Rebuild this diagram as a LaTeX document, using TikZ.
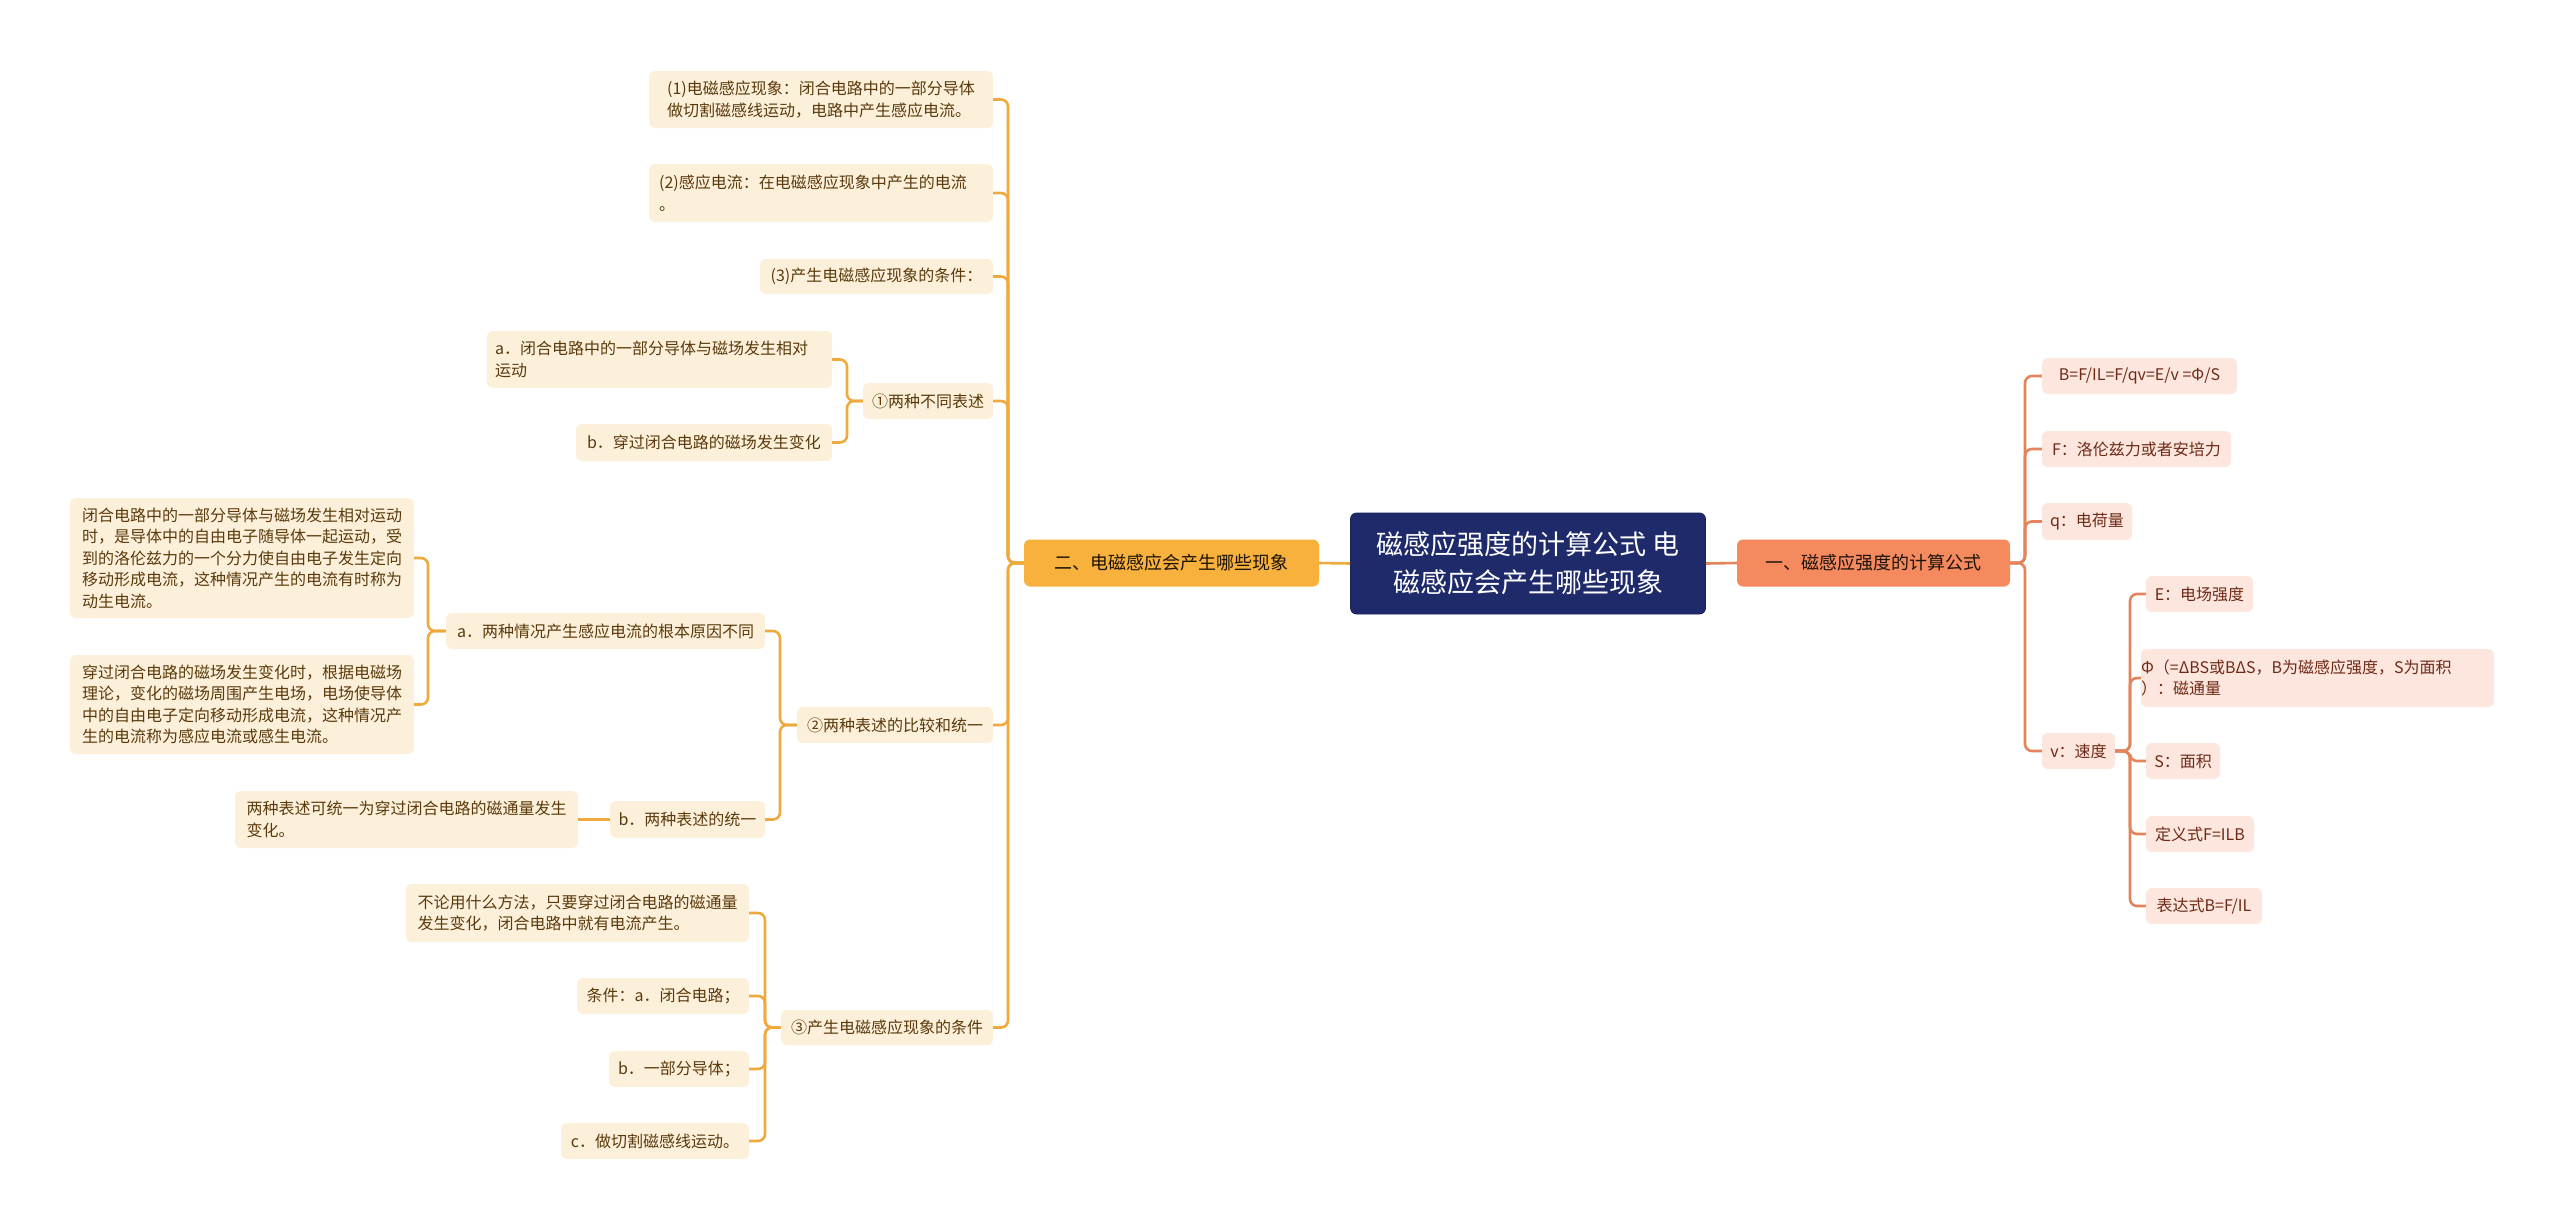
\documentclass[tikz,border=0pt]{standalone}
\usepackage{fontspec}
\newfontfamily\cf{Noto Sans CJK SC}
\definecolor{rootfill}{HTML}{1F2A6B}
\definecolor{lmainfill}{HTML}{F8B13C}
\definecolor{rmainfill}{HTML}{F48A5E}
\definecolor{lfill}{HTML}{FDF0DA}
\definecolor{rfill}{HTML}{FDE6DE}
\definecolor{ltext}{HTML}{5A3A0C}
\definecolor{rtext}{HTML}{6E2A16}
\definecolor{lline}{HTML}{EFAA3E}
\definecolor{rline}{HTML}{E3845C}
\tikzset{
  box/.style={rounded corners=6pt, inner sep=0pt, align=left, anchor=center},
  rootbox/.style={box, fill=rootfill, draw=rootfill!80!black, line width=0.8pt, text=white, align=center, font=\cf\fontsize{27}{38}\selectfont},
  lmain/.style={box, fill=lmainfill, text=black!85!brown, font=\cf\fontsize{18}{24}\selectfont},
  rmain/.style={box, fill=rmainfill, text=black!85!brown, font=\cf\fontsize{18}{24}\selectfont},
  lbox/.style={box, fill=lfill, text=ltext, font=\cf\fontsize{16}{21.5}\selectfont},
  rbox/.style={box, fill=rfill, text=rtext, font=\cf\fontsize{16}{21.5}\selectfont},
  lcon/.style={draw=lline, line width=2.6pt, rounded corners=7pt},
  rcon/.style={draw=rline, line width=2.6pt, rounded corners=7pt},
}
\newcommand{\bx}[7]{\node[#1, minimum width=#4, minimum height=#5] (#2) at (#3) {#6};}
\begin{document}
\begin{tikzpicture}[x=1pt,y=-1pt]
\useasboundingbox[fill=white] (0,0) rectangle (2560,1231);
% trunk coordinates
\coordinate (tL) at (1008,0);
\coordinate (tA) at (847,0);
\coordinate (tB) at (780,0);
\coordinate (tBa) at (428,0);
\coordinate (tC) at (765,0);
\coordinate (tR) at (2025,0);
\coordinate (tV) at (2130,0);
% root and mains
\node[rootbox, minimum width=355, minimum height=101] (root) at (1528,563.5) {磁感应强度的计算公式 电\\磁感应会产生哪些现象};
\node[lmain, minimum width=295, minimum height=47] (L) at (1171.5,563) {二、电磁感应会产生哪些现象};
\node[rmain, minimum width=273, minimum height=47] (R) at (1873.5,563) {一、磁感应强度的计算公式};
% left children
\node[lbox, minimum width=344, minimum height=57] (n1) at (821,99.5) {(1)电磁感应现象：闭合电路中的一部分导体\\做切割磁感线运动，电路中产生感应电流。};
\node[lbox, minimum width=344, minimum height=58] (n2) at (821,193) {(2)感应电流：在电磁感应现象中产生的电流\\。\hphantom{感应电流：在电磁感应现象中产生的电流()2}};
\node[lbox, minimum width=233, minimum height=35] (n3) at (876.5,276.5) {(3)产生电磁感应现象的条件：};
\node[lbox, minimum width=130, minimum height=36] (nA) at (928,401) {①两种不同表述};
\node[lbox, minimum width=345, minimum height=57] (nA1) at (659.5,359.5) {a．闭合电路中的一部分导体与磁场发生相对\\运动\hphantom{闭合电路中的一部分导体与磁场发生相a．}};
\node[lbox, minimum width=256, minimum height=37] (nA2) at (704,442.5) {b．穿过闭合电路的磁场发生变化};
\node[lbox, minimum width=196, minimum height=36] (nB) at (895,725) {②两种表述的比较和统一};
\node[lbox, minimum width=319, minimum height=36] (nB1) at (605.5,631) {a．两种情况产生感应电流的根本原因不同};
\node[lbox, minimum width=344, minimum height=120] (nB11) at (242,558) {闭合电路中的一部分导体与磁场发生相对运动\\时，是导体中的自由电子随导体一起运动，受\\到的洛伦兹力的一个分力使自由电子发生定向\\移动形成电流，这种情况产生的电流有时称为\\动生电流。};
\node[lbox, minimum width=344, minimum height=99] (nB12) at (242,704.5) {穿过闭合电路的磁场发生变化时，根据电磁场\\理论，变化的磁场周围产生电场，电场使导体\\中的自由电子定向移动形成电流，这种情况产\\生的电流称为感应电流或感生电流。};
\node[lbox, minimum width=155, minimum height=37] (nB2) at (687.5,819.5) {b．两种表述的统一};
\node[lbox, minimum width=343, minimum height=57] (nB21) at (406.5,819.5) {两种表述可统一为穿过闭合电路的磁通量发生\\变化。};
\node[lbox, minimum width=212, minimum height=35] (nC) at (887,1027.5) {③产生电磁感应现象的条件};
\node[lbox, minimum width=343, minimum height=58] (nC1) at (577.5,913) {不论用什么方法，只要穿过闭合电路的磁通量\\发生变化，闭合电路中就有电流产生。};
\node[lbox, minimum width=172, minimum height=36] (nC2) at (663,996) {条件：a．闭合电路；};
\node[lbox, minimum width=140, minimum height=36] (nC3) at (679,1069) {b．一部分导体；};
\node[lbox, minimum width=188, minimum height=36] (nC4) at (655,1141) {c．做切割磁感线运动。};
% right children
\node[rbox, minimum width=195, minimum height=36] (r1) at (2139.5,376) {B=F/IL=F/qv=E/v =Φ/S};
\node[rbox, minimum width=189, minimum height=36] (r2) at (2136.5,449) {F：洛伦兹力或者安培力};
\node[rbox, minimum width=90, minimum height=37] (r3) at (2087,521.5) {q：电荷量};
\node[rbox, minimum width=73, minimum height=36] (r4) at (2078.5,751) {v：速度};
\node[rbox, minimum width=107, minimum height=36] (r41) at (2199.5,594) {E：电场强度};
\node[rbox, minimum width=343, minimum height=58] (r42) at (2317.5,678) {Φ（=ΔBS或BΔS，B为磁感应强度，S为面积\\）：磁通量\hphantom{ΔBS或BΔS，B为磁感应强度，S为面积}};
\node[rbox, minimum width=74, minimum height=36] (r43) at (2183,761) {S：面积};
\node[rbox, minimum width=108, minimum height=36] (r44) at (2200,834) {定义式F=ILB};
\node[rbox, minimum width=116, minimum height=36] (r45) at (2204,906) {表达式B=F/IL};
% connectors
\draw[lcon] (root.west) -- (L.east);
\draw[rcon] (root.east) -- (R.west);
\foreach \c in {n1,n2,n3,nA,nB,nC}{\draw[lcon] (L.west) -- (L.west -| tL) |- (\c.east);}
\foreach \c in {nA1,nA2}{\draw[lcon] (nA.west) -- (nA.west -| tA) |- (\c.east);}
\foreach \c in {nB1,nB2}{\draw[lcon] (nB.west) -- (nB.west -| tB) |- (\c.east);}
\foreach \c in {nB11,nB12}{\draw[lcon] (nB1.west) -- (nB1.west -| tBa) |- (\c.east);}
\draw[lcon] (nB2.west) -- (nB21.east);
\foreach \c in {nC1,nC2,nC3,nC4}{\draw[lcon] (nC.west) -- (nC.west -| tC) |- (\c.east);}
\foreach \c in {r1,r2,r3,r4}{\draw[rcon] (R.east) -- (R.east -| tR) |- (\c.west);}
\foreach \c in {r41,r42,r43,r44,r45}{\draw[rcon] (r4.east) -- (r4.east -| tV) |- (\c.west);}
\end{tikzpicture}
\end{document}
